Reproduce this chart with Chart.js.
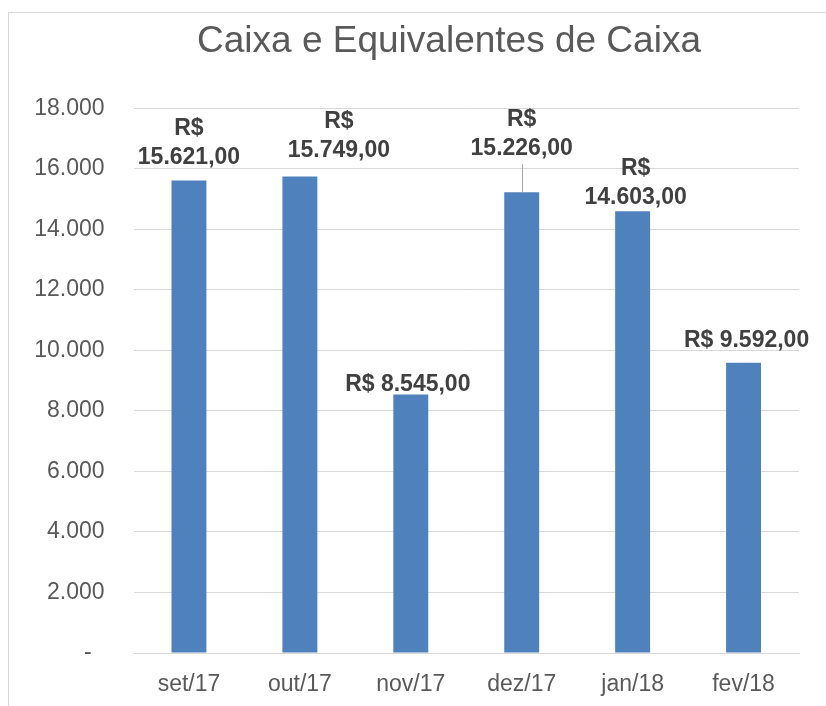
<!DOCTYPE html>
<html>
<head>
<meta charset="utf-8">
<script src="https://cdn.jsdelivr.net/npm/chart.js@4.4.1/dist/chart.umd.min.js"></script>
<style>
  body { margin: 0; background: #fff; overflow: hidden; }
  #frame { position: absolute; left: 8px; top: 12px; width: 840px; height: 720px; border: 1px solid #d9d9d9; }
  #wrap { position: absolute; left: 0; top: 0; width: 826px; height: 706px; }
</style>
</head>
<body>
<div id="frame"></div>
<div id="wrap"><canvas id="chart"></canvas></div>
<script>
var months = ["set/17", "out/17", "nov/17", "dez/17", "jan/18", "fev/18"];
var caixa = [15621, 15749, 8545, 15226, 14603, 9592];
var yTicks = [0, 2000, 4000, 6000, 8000, 10000, 12000, 14000, 16000, 18000];

// 15621 -> "15.621"
function milhar(n) {
  return String(n).replace(/\B(?=(\d{3})+(?!\d))/g, ".");
}

var fontName = "'Liberation Sans', Arial, sans-serif";

// data labels above the bars (Excel style, some wrapped)
var barLabels = {
  id: "barLabels",
  afterDatasetsDraw: function(chart, args, opts) {
    var ctx = chart.ctx;
    var meta = chart.getDatasetMeta(0);
    ctx.save();
    ctx.font = "bold 23px " + fontName;
    ctx.fillStyle = "#404040";
    ctx.textAlign = "center";
    ctx.textBaseline = "alphabetic";
    meta.data.forEach(function(bar, i) {
      var num = milhar(caixa[i]) + ",00";
      var lines = opts.wrap[i] ? ["R$", num] : ["R$ " + num];
      var x = bar.x + opts.dx[i];
      var y = bar.y - opts.gap[i];
      for (var k = lines.length - 1; k >= 0; k--) {
        ctx.fillText(lines[k], x, y);
        y -= 29;
      }
      if (opts.leader[i]) {
        ctx.strokeStyle = "#a6a6a6";
        ctx.lineWidth = 1;
        ctx.beginPath();
        ctx.moveTo(Math.round(bar.x) + 0.5, bar.y);
        ctx.lineTo(Math.round(bar.x) + 0.5, bar.y - opts.gap[i] + 9);
        ctx.stroke();
      }
    });
    ctx.restore();
  }
};

// the title in the original sits a bit right of the canvas centre
var titleShift = {
  id: "titleShift",
  afterLayout: function(chart, args, opts) {
    if (chart.titleBlock) chart.titleBlock.left += opts.px;
  }
};

new Chart(document.getElementById("chart"), {
  type: "bar",
  data: {
    labels: months,
    datasets: [{
      label: "Caixa e Equivalentes de Caixa",
      data: caixa,
      backgroundColor: "#4f81bd",
      borderWidth: 0,
      barPercentage: 0.315,
      categoryPercentage: 1
    }]
  },
  options: {
    responsive: true,
    maintainAspectRatio: false,
    animation: false,
    layout: { padding: { left: 24, right: 27, top: 0, bottom: 0 } },
    plugins: {
      legend: { display: false },
      tooltip: { enabled: false },
      title: {
        display: true,
        text: "Caixa e Equivalentes de Caixa",
        color: "#595959",
        font: { family: fontName, size: 37, weight: "normal" },
        padding: { top: 20, bottom: 44 }
      },
      titleShift: { px: 75 },
      barLabels: {
        wrap: [true, true, false, true, true, false],
        dx: [0, 39, -3, 0, 3, 3],
        gap: [16, 20, 3, 37, 7, 16],
        leader: [false, false, false, true, false, false]
      }
    },
    scales: {
      x: {
        grid: { display: false, drawTicks: false },
        border: { display: true, color: "#d9d9d9" },
        ticks: {
          color: "#595959",
          padding: 18,
          font: { family: fontName, size: 23 }
        },
        afterFit: function(scale) { scale.height = 53; }
      },
      y: {
        min: yTicks[0],
        max: yTicks[yTicks.length - 1],
        grid: { color: "#d9d9d9", drawTicks: false },
        border: { display: false },
        ticks: {
          stepSize: yTicks[1] - yTicks[0],
          color: "#595959",
          padding: 29,
          font: { family: fontName, size: 23 },
          callback: function(v) { return v === 0 ? "-  " : milhar(v); }
        },
        afterFit: function(scale) { scale.width = 109.5; }
      }
    }
  },
  plugins: [barLabels, titleShift]
});
</script>
</body>
</html>
